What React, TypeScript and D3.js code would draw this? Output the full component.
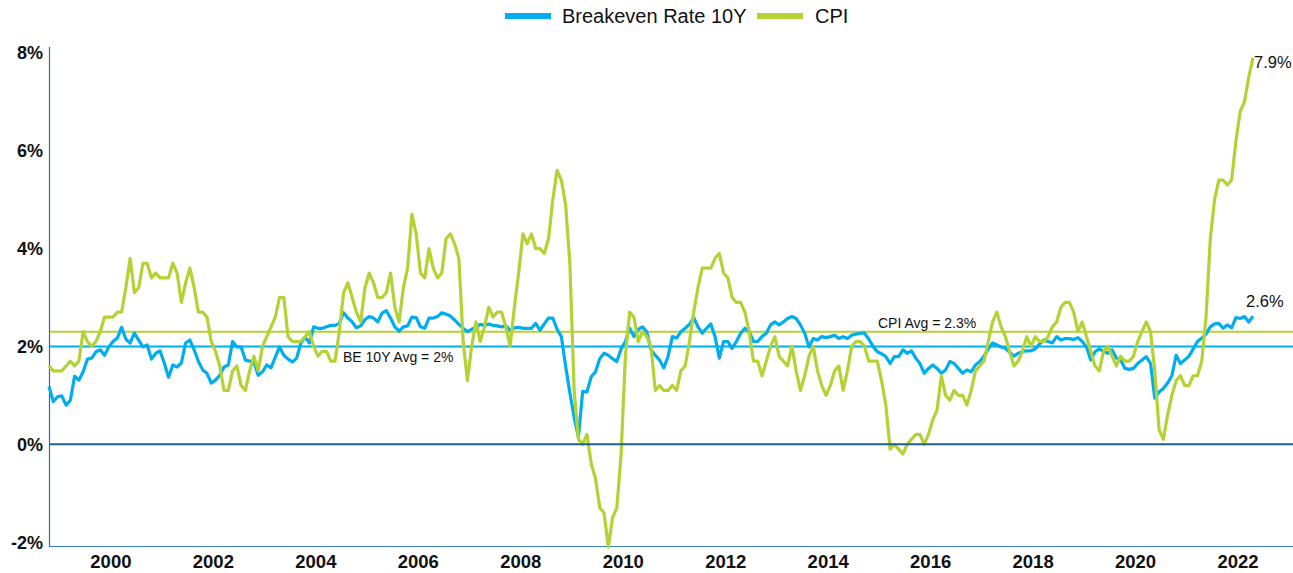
import React from "react";
import * as d3 from "d3";

// Monthly data, Aug 1998 .. Feb 2022
const startYear = 1998;
const startMonth = 7; // August (0-based)

const breakeven10Y: number[] = [
  1.18, 0.87, 0.97, 0.99, 0.80, 0.90, 1.39, 1.31, 1.48, 1.74,
  1.76, 1.89, 1.93, 1.82, 1.99, 2.10, 2.17, 2.39, 2.15, 2.07,
  2.27, 2.13, 1.99, 2.03, 1.74, 1.86, 1.91, 1.66, 1.37, 1.62,
  1.58, 1.66, 2.07, 2.13, 1.93, 1.69, 1.52, 1.45, 1.25, 1.31,
  1.41, 1.58, 1.62, 2.10, 1.99, 1.99, 1.72, 1.70, 1.68, 1.41,
  1.48, 1.62, 1.56, 1.78, 1.99, 1.82, 1.74, 1.68, 1.76, 2.07,
  2.19, 2.07, 2.40, 2.37, 2.37, 2.40, 2.43, 2.43, 2.47, 2.69,
  2.58, 2.50, 2.38, 2.42, 2.55, 2.61, 2.58, 2.50, 2.68, 2.73,
  2.58, 2.40, 2.31, 2.40, 2.42, 2.60, 2.59, 2.40, 2.37, 2.58,
  2.58, 2.61, 2.69, 2.66, 2.62, 2.54, 2.45, 2.37, 2.30, 2.35,
  2.39, 2.45, 2.43, 2.46, 2.43, 2.42, 2.40, 2.42, 2.33, 2.38,
  2.39, 2.37, 2.37, 2.37, 2.47, 2.33, 2.46, 2.58, 2.58, 2.35,
  2.20, 1.60, 1.05, 0.55, 0.15, 1.08, 1.07, 1.38, 1.48, 1.75,
  1.86, 1.82, 1.75, 1.69, 1.95, 2.10, 2.37, 2.20, 2.35, 2.40,
  2.30, 1.93, 1.82, 1.72, 1.56, 1.80, 2.20, 2.17, 2.30, 2.37,
  2.45, 2.59, 2.40, 2.27, 2.37, 2.46, 2.20, 1.76, 2.10, 2.10,
  1.96, 2.10, 2.27, 2.37, 2.30, 2.10, 2.10, 2.20, 2.27, 2.44,
  2.50, 2.44, 2.50, 2.57, 2.61, 2.57, 2.44, 2.27, 1.99, 2.16,
  2.13, 2.20, 2.18, 2.20, 2.23, 2.16, 2.20, 2.16, 2.23, 2.25,
  2.27, 2.27, 2.15, 2.00, 1.89, 1.85, 1.79, 1.65, 1.79, 1.79,
  1.93, 1.86, 1.91, 1.76, 1.65, 1.45, 1.55, 1.62, 1.55, 1.45,
  1.52, 1.69, 1.65, 1.55, 1.45, 1.52, 1.48, 1.62, 1.69, 1.80,
  1.95, 2.07, 2.03, 1.99, 1.96, 1.88, 1.80, 1.86, 1.89, 1.91,
  1.91, 1.95, 2.05, 2.13, 2.10, 2.07, 2.20, 2.13, 2.16, 2.16,
  2.14, 2.18, 2.10, 1.99, 1.72, 1.89, 1.95, 1.90, 1.86, 1.93,
  1.76, 1.72, 1.55, 1.53, 1.55, 1.65, 1.72, 1.79, 1.65, 0.94,
  1.07, 1.14, 1.25, 1.40, 1.82, 1.65, 1.72, 1.80, 1.95, 2.10,
  2.17, 2.25, 2.40, 2.46, 2.47, 2.37, 2.44, 2.38, 2.59, 2.57,
  2.61, 2.50, 2.62,
];

const cpi: number[] = [
  // 1998 Aug-Dec
  1.6, 1.5, 1.5, 1.5, 1.6,
  // 1999
  1.7, 1.6, 1.7, 2.3, 2.1, 2.0, 2.1, 2.3, 2.6, 2.6, 2.6, 2.7,
  // 2000
  2.7, 3.2, 3.8, 3.1, 3.2, 3.7, 3.7, 3.4, 3.5, 3.4, 3.4, 3.4,
  // 2001
  3.7, 3.5, 2.9, 3.3, 3.6, 3.2, 2.7, 2.7, 2.6, 2.1, 1.9, 1.6,
  // 2002
  1.1, 1.1, 1.5, 1.6, 1.2, 1.1, 1.5, 1.8, 1.5, 2.0, 2.2, 2.4,
  // 2003
  2.6, 3.0, 3.0, 2.2, 2.1, 2.1, 2.1, 2.2, 2.3, 2.0, 1.8, 1.9,
  // 2004
  1.9, 1.7, 1.7, 2.3, 3.1, 3.3, 3.0, 2.7, 2.5, 3.2, 3.5, 3.3,
  // 2005
  3.0, 3.0, 3.1, 3.5, 2.8, 2.5, 3.2, 3.6, 4.7, 4.3, 3.5, 3.4,
  // 2006
  4.0, 3.6, 3.4, 3.5, 4.2, 4.3, 4.1, 3.8, 2.1, 1.3, 2.0, 2.5,
  // 2007
  2.1, 2.4, 2.8, 2.6, 2.7, 2.7, 2.4, 2.0, 2.8, 3.5, 4.3, 4.1,
  // 2008
  4.3, 4.0, 4.0, 3.9, 4.2, 5.0, 5.6, 5.4, 4.9, 3.7, 1.1, 0.1,
  // 2009
  0.0, 0.2, -0.4, -0.7, -1.3, -1.4, -2.1, -1.5, -1.3, -0.2, 1.8, 2.7,
  // 2010
  2.6, 2.1, 2.3, 2.2, 2.0, 1.1, 1.2, 1.1, 1.1, 1.2, 1.1, 1.5,
  // 2011
  1.6, 2.1, 2.7, 3.2, 3.6, 3.6, 3.6, 3.8, 3.9, 3.5, 3.4, 3.0,
  // 2012
  2.9, 2.9, 2.7, 2.3, 1.7, 1.7, 1.4, 1.7, 2.0, 2.2, 1.8, 1.7,
  // 2013
  1.6, 2.0, 1.5, 1.1, 1.4, 1.8, 2.0, 1.5, 1.2, 1.0, 1.2, 1.5,
  // 2014
  1.6, 1.1, 1.5, 2.0, 2.1, 2.1, 2.0, 1.7, 1.7, 1.7, 1.3, 0.8,
  // 2015
  -0.1, 0.0, -0.1, -0.2, 0.0, 0.1, 0.2, 0.2, 0.0, 0.2, 0.5, 0.7,
  // 2016
  1.4, 1.0, 0.9, 1.1, 1.0, 1.0, 0.8, 1.1, 1.5, 1.6, 1.7, 2.1,
  // 2017
  2.5, 2.7, 2.4, 2.2, 1.9, 1.6, 1.7, 1.9, 2.2, 2.0, 2.2, 2.1,
  // 2018
  2.1, 2.2, 2.4, 2.5, 2.8, 2.9, 2.9, 2.7, 2.3, 2.5, 2.2, 1.9,
  // 2019
  1.6, 1.5, 1.9, 2.0, 1.8, 1.6, 1.8, 1.7, 1.7, 1.8, 2.1, 2.3,
  // 2020
  2.5, 2.3, 1.5, 0.3, 0.1, 0.6, 1.0, 1.3, 1.4, 1.2, 1.2, 1.4,
  // 2021
  1.4, 1.7, 2.6, 4.2, 5.0, 5.4, 5.4, 5.3, 5.4, 6.2, 6.8, 7.0,
  // 2022
  7.5, 7.9,
];

const tickYears: number[] = [2000, 2002, 2004, 2006, 2008, 2010, 2012, 2014, 2016, 2018, 2020, 2022];
const yTicks: number[] = [-2, 0, 2, 4, 6, 8];
const beAvg = 2.0;
const cpiAvg = 2.3;
const seriesNames = ["Breakeven Rate 10Y", "CPI"];

const BLUE = "#00AEEF";
const GREEN = "#B3D335";
const AXIS = "#2A6E9C";
const FONT = "Liberation Sans, Arial, sans-serif";

export default function App() {
  const W = 1293;
  const H = 573;
  const n = cpi.length;
  const x = d3.scaleLinear().domain([0, n - 1]).range([49, 1253]);
  const y = d3.scaleLinear().domain([-2.08, 8.12]).range([546, 47]);
  // label position: Jan of year offset by -2.5 months (as in reference layout)
  const labelIdx = (yr: number) => (yr - startYear) * 12 - startMonth - 2.5;

  const line = d3
    .line<number>()
    .x((_, i) => x(i))
    .y((d) => y(d))
    .curve(d3.curveLinear);

  const lastBE = breakeven10Y[breakeven10Y.length - 1];
  const lastCPI = cpi[cpi.length - 1];

  return (
    <svg
      width={W}
      height={H}
      style={{ position: "absolute", left: 0, top: 0, background: "#fff" }}
      fontFamily={FONT}
    >
      {/* Legend */}
      <g>
        <rect x={505} y={13} width={46} height={6} fill={BLUE} />
        <text x={562} y={23} fontSize={20} fill="#111">{seriesNames[0]}</text>
        <rect x={757} y={13} width={46} height={6} fill={GREEN} />
        <text x={815} y={23} fontSize={20} fill="#111">{seriesNames[1]}</text>
      </g>

      {/* Y axis labels */}
      {yTicks.map((t) => (
        <text
          key={t}
          x={43}
          y={y(t) + 6.5}
          textAnchor="end"
          fontSize={18}
          fontWeight="bold"
          fill="#111"
        >
          {`${t}%`}
        </text>
      ))}

      {/* X axis labels */}
      {tickYears.map((yr) => (
        <text
          key={yr}
          x={x(labelIdx(yr))}
          y={568}
          textAnchor="middle"
          fontSize={18.5}
          fontWeight="bold"
          fill="#111"
        >
          {yr}
        </text>
      ))}

      {/* Axes */}
      <line x1={49.5} x2={49.5} y1={47} y2={546} stroke={AXIS} strokeWidth={1.2} />
      <line x1={49} x2={W} y1={546.5} y2={546.5} stroke="#3C82B8" strokeWidth={1} />

      {/* Average lines */}
      <line x1={50} x2={W} y1={y(cpiAvg)} y2={y(cpiAvg)} stroke={GREEN} strokeWidth={2} />
      <line x1={50} x2={W} y1={y(beAvg)} y2={y(beAvg)} stroke={BLUE} strokeWidth={2} />

      {/* Series */}
      <path d={line(breakeven10Y) || ""} fill="none" stroke={BLUE} strokeWidth={3.2} strokeLinejoin="round" />
      <path d={line(cpi) || ""} fill="none" stroke={GREEN} strokeWidth={3.2} strokeLinejoin="round" />

      {/* Zero line */}
      <line x1={50} x2={W} y1={y(0)} y2={y(0)} stroke="#1F5F8F" strokeWidth={2.2} />

      {/* Annotations */}
      <text x={878} y={328} fontSize={14} fill="#111">{`CPI Avg = ${cpiAvg}%`}</text>
      <text x={343} y={362} fontSize={14} fill="#111">{`BE 10Y Avg = ${beAvg}%`}</text>
      <text x={x(n - 1) + 1} y={68} fontSize={16.5} fill="#111">{`${lastCPI}%`}</text>
      <text x={x(breakeven10Y.length - 1) - 7} y={307} fontSize={16.5} fill="#111">{`${lastBE.toFixed(1)}%`}</text>
    </svg>
  );
}
